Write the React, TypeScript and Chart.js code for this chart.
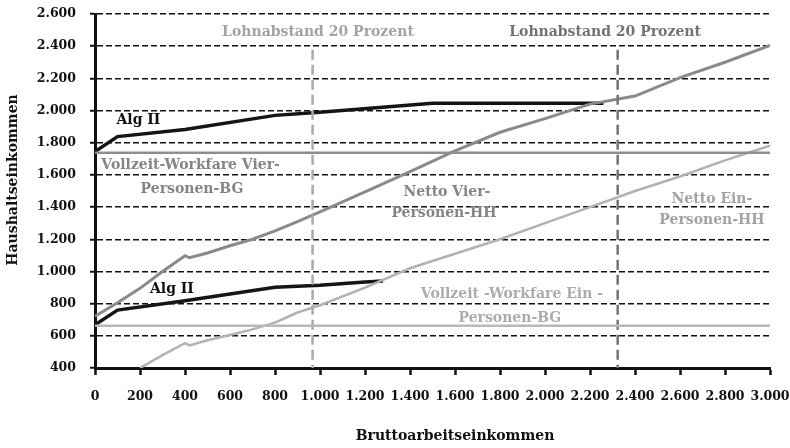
import React, { useEffect, useRef } from "react";
import { Chart, registerables } from "chart.js";

Chart.register(...registerables);

// Gross income (x) values and household income (y) values
const algIIVierX = [0, 100, 400, 800, 1000, 1500, 2260];
const algIIVierY = [1745, 1838, 1882, 1970, 1990, 2045, 2045];

const algIIEinX = [0, 100, 400, 800, 1000, 1200, 1280];
const algIIEinY = [668, 760, 818, 902, 915, 935, 940];

const nettoVierX = [0, 100, 200, 300, 400, 420, 500, 600, 700, 800, 900, 1000, 1200, 1400, 1600, 1800, 2000, 2200, 2400, 2600, 2800, 3000];
const nettoVierY = [722, 805, 895, 1000, 1098, 1085, 1115, 1160, 1200, 1252, 1310, 1370, 1495, 1620, 1750, 1865, 1950, 2040, 2090, 2205, 2300, 2405];

const nettoEinX = [200, 300, 400, 420, 500, 600, 700, 800, 900, 1000, 1200, 1400, 1600, 1800, 2000, 2200, 2400, 2600, 2800, 3000];
const nettoEinY = [400, 480, 555, 540, 572, 605, 640, 682, 745, 790, 900, 1020, 1110, 1200, 1300, 1400, 1500, 1590, 1690, 1782];

const workfareVierY = 1738;
const workfareEinY = 663;
const lohnabstandX = [967, 2323];
const lohnabstandTop = 2378;

const xMin = 0, xMax = 3000, xStep = 200;
const yMin = 400, yMax = 2600, yStep = 200;

const xTitle = "Bruttoarbeitseinkommen";
const yTitle = "Haushaltseinkommen";

const labelTexts = [
  "Lohnabstand 20 Prozent",
  "Lohnabstand 20 Prozent",
  "Alg II",
  "Alg II",
  "Vollzeit-Workfare Vier-",
  "Personen-BG",
  "Netto Vier-",
  "Personen-HH",
  "Netto Ein-",
  "Personen-HH",
  "Vollzeit -Workfare Ein -",
  "Personen-BG",
];

const fmt = (v: number) => {
  const s = Math.round(v).toString();
  return s.replace(/\B(?=(\d{3})+(?!\d))/g, ".");
};

const pts = (xs: number[], ys: number[]) => xs.map((x, i) => ({ x, y: ys[i] }));

const FONT = '"DejaVu Serif", serif';

export default function App() {
  const ref = useRef<HTMLCanvasElement | null>(null);

  useEffect(() => {
    const canvas = ref.current;
    if (!canvas) return;

    // label placements (data coordinates), colours
    const labelPlacement = [
      { x: 991, y: 2488, c: "#a3a3a3" },
      { x: 2267, y: 2488, c: "#737373" },
      { x: 193, y: 1941, c: "#111" },
      { x: 342, y: 891, c: "#111" },
      { x: 425, y: 1662, c: "#858585" },
      { x: 431, y: 1512, c: "#858585" },
      { x: 1564, y: 1494, c: "#858585" },
      { x: 1551, y: 1363, c: "#858585" },
      { x: 2742, y: 1450, c: "#a3a3a3" },
      { x: 2742, y: 1320, c: "#a3a3a3" },
      { x: 1853, y: 860, c: "#acacac" },
      { x: 1844, y: 711, c: "#acacac" },
    ];

    const textPlugin = {
      id: "texts",
      afterDraw(chart: any) {
        const ctx = chart.ctx;
        const xs = chart.scales.x;
        const ys = chart.scales.y;
        ctx.save();
        ctx.textAlign = "center";
        ctx.textBaseline = "middle";
        ctx.font = `bold 14px ${FONT}`;
        labelTexts.forEach((t, i) => {
          const p = labelPlacement[i];
          ctx.fillStyle = p.c;
          ctx.fillText(t, xs.getPixelForValue(p.x), ys.getPixelForValue(p.y));
        });
        ctx.fillStyle = "#111";
        ctx.font = `bold 14px ${FONT}`;
        ctx.fillText(xTitle, 455, 436);
        ctx.translate(13, 180);
        ctx.rotate(-Math.PI / 2);
        ctx.fillText(yTitle, 0, 0);
        ctx.restore();
      },
    };

    const chart = new Chart(canvas, {
      type: "line",
      data: {
        datasets: [
          {
            data: pts([xMin, xMax], [workfareVierY, workfareVierY]),
            borderColor: "#8e8e8e",
            borderWidth: 2.5,
          },
          {
            data: pts([xMin, xMax], [workfareEinY, workfareEinY]),
            borderColor: "#b8b8b8",
            borderWidth: 2.5,
          },
          {
            data: pts([lohnabstandX[0], lohnabstandX[0]], [lohnabstandTop, yMin]),
            borderColor: "#aaaaaa",
            borderWidth: 2.5,
            borderDash: [10, 5],
          },
          {
            data: pts([lohnabstandX[1], lohnabstandX[1]], [lohnabstandTop, yMin]),
            borderColor: "#737373",
            borderWidth: 2.5,
            borderDash: [10, 5],
          },
          {
            data: pts(nettoEinX, nettoEinY),
            borderColor: "#b2b2b2",
            borderWidth: 2.5,
          },
          {
            data: pts(nettoVierX, nettoVierY),
            borderColor: "#8a8a8a",
            borderWidth: 3,
          },
          {
            data: pts(algIIEinX, algIIEinY),
            borderColor: "#151515",
            borderWidth: 3.5,
          },
          {
            data: pts(algIIVierX, algIIVierY),
            borderColor: "#151515",
            borderWidth: 3.5,
          },
        ],
      },
      options: {
        responsive: false,
        animation: false,
        devicePixelRatio: 1,
        layout: { padding: { top: 0, right: 0, left: 0, bottom: 0 } },
        elements: {
          point: { radius: 0, hoverRadius: 0 },
          line: { tension: 0, fill: false },
        },
        plugins: {
          legend: { display: false },
          tooltip: { enabled: false },
        },
        scales: {
          x: {
            type: "linear",
            min: xMin,
            max: xMax,
            ticks: {
              stepSize: xStep,
              color: "#111",
              font: { family: FONT, weight: "bold", size: 12.5 },
              padding: 14,
              maxRotation: 0,
              autoSkip: false,
              callback: (v: any) => fmt(Number(v)),
            },
            grid: {
              drawOnChartArea: false,
              drawTicks: true,
              tickLength: 7,
              tickColor: "#111",
              tickWidth: 2.5,
              tickBorderDash: [],
            },
            border: { display: true, color: "#111", width: 3 },
            afterFit: (s: any) => {
              s.height = 80;
              s.paddingLeft = 0;
              s.paddingRight = 20;
            },
          },
          y: {
            type: "linear",
            min: yMin,
            max: yMax,
            ticks: {
              stepSize: yStep,
              color: "#111",
              font: { family: FONT, weight: "bold", size: 12.5 },
              padding: 14,
              autoSkip: false,
              callback: (v: any) => fmt(Number(v)),
            },
            grid: {
              color: (c: any) => (c.tick && c.tick.value === yMin ? "rgba(0,0,0,0)" : "#111"),
              lineWidth: 1.5,
              drawTicks: true,
              tickLength: 5,
              tickColor: "#111",
              tickWidth: 2,
              tickBorderDash: [],
            },
            border: { display: true, color: "#111", width: 3, dash: [6, 3] },
            afterFit: (s: any) => {
              s.width = 95;
              s.paddingTop = 14;
              s.paddingBottom = 0;
            },
          },
        },
      },
      plugins: [textPlugin],
    } as any);

    return () => chart.destroy();
  }, []);

  return (
    <div style={{ position: "absolute", left: 0, top: 0, width: 790, height: 448, background: "#fff" }}>
      <canvas ref={ref} width={790} height={448} style={{ width: 790, height: 448, display: "block" }} />
    </div>
  );
}
